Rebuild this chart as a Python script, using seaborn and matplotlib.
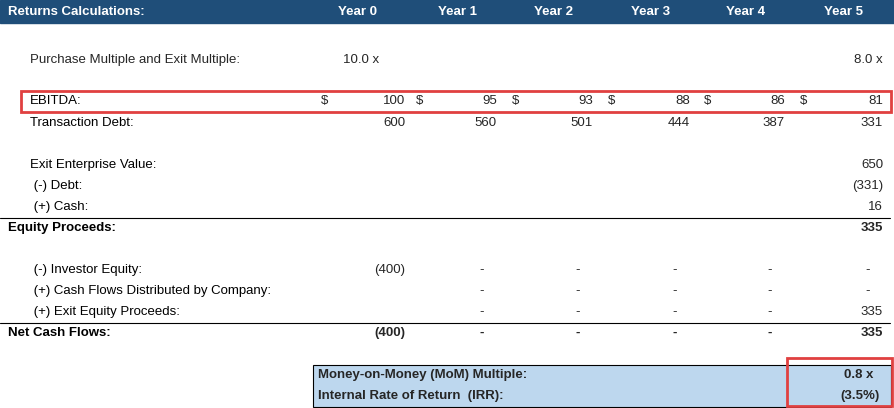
import matplotlib
matplotlib.use("Agg")
import matplotlib.pyplot as plt
import seaborn as sns
from matplotlib.patches import Rectangle

sns.set_theme(style="white")

years = ["Year 0", "Year 1", "Year 2", "Year 3", "Year 4", "Year 5"]
multiples = ["10.0 x", "", "", "", "", "8.0 x"]
ebitda = [100, 95, 93, 88, 86, 81]
debt = [600, 560, 501, 444, 387, 331]
exit_ev = ["", "", "", "", "", "650"]
less_debt = ["", "", "", "", "", "(331)"]
plus_cash = ["", "", "", "", "", "16"]
equity_proceeds = ["", "", "", "", "", "335"]
investor_equity = ["(400)", "-", "-", "-", "-", "-"]
cf_distributed = ["", "-", "-", "-", "-", "-"]
exit_equity = ["", "-", "-", "-", "-", "335"]
net_cf = ["(400)", "-", "-", "-", "-", "335"]
mom = "0.8 x"
irr = "(3.5%)"

W, H = 894, 408
fig = plt.figure(figsize=(W / 100, H / 100), dpi=100)
ax = fig.add_axes([0, 0, 1, 1])
ax.set_xlim(0, W)
ax.set_ylim(H, 0)
ax.axis("off")

FONT = "Liberation Sans"
fs = 9.5
col_right = [405, 497, 593, 690, 785, 883]
col_center = [357, 458, 554, 651, 746, 843]
dollar_x = [325, 420, 516, 612, 708, 804]

# header
ax.add_patch(Rectangle((0, 0), W, 23, color="#1F4E79", zorder=0))
ax.text(8, 12, "Returns Calculations:", color="white", fontweight="bold",
        fontsize=fs, va="center", family=FONT)
for x, y in zip(col_center, years):
    ax.text(x, 12, y, color="white", fontweight="bold", fontsize=fs,
            va="center", ha="center", family=FONT)

def row(y, label, vals, indent=30, bold=False, ha="right"):
    ax.text(indent, y, label, fontsize=fs, va="center", family=FONT,
            fontweight="bold" if bold else "normal", color="black")
    for i, v in enumerate(vals):
        if v == "":
            continue
        if v == "-":
            ax.text(col_right[i] - 15, y, v, fontsize=fs, va="center", ha="center",
                    family=FONT, fontweight="bold" if bold else "normal")
        else:
            ax.text(col_right[i], y, v, fontsize=fs, va="center", ha=ha,
                    family=FONT, fontweight="bold" if bold else "normal")

ax.text(30, 60, "Purchase Multiple and Exit Multiple:", fontsize=fs, va="center", family=FONT)
ax.text(343, 60, multiples[0], fontsize=fs, va="center", family=FONT)
ax.text(883, 60, multiples[5], fontsize=fs, va="center", ha="right", family=FONT)

row(101, "EBITDA:", [str(v) for v in ebitda], indent=30)
for x in dollar_x:
    ax.text(x, 101, "$", fontsize=fs, va="center", ha="center", family=FONT)
ax.add_patch(Rectangle((21, 91), 870, 21, fill=False, ec="#E04040", lw=2))

row(123, "Transaction Debt:", [str(v) for v in debt], indent=30)
row(165, "Exit Enterprise Value:", exit_ev, indent=30)
row(186, " (-) Debt:", less_debt, indent=30)
row(207, " (+) Cash:", plus_cash, indent=30)
ax.plot([0, 890], [218, 218], color="black", lw=0.8)
row(228, "Equity Proceeds:", equity_proceeds, indent=8, bold=True)

row(270, " (-) Investor Equity:", investor_equity, indent=30)
row(291, " (+) Cash Flows Distributed by Company:", cf_distributed, indent=30)
row(312, " (+) Exit Equity Proceeds:", exit_equity, indent=30)
ax.plot([0, 890], [323, 323], color="black", lw=0.8)
row(333, "Net Cash Flows:", net_cf, indent=8, bold=True)

ax.add_patch(Rectangle((313, 365), 578, 42, fc="#BDD7EE", ec="black", lw=0.8))
ax.text(318, 375, "Money-on-Money (MoM) Multiple:", fontsize=fs, va="center",
        fontweight="bold", family=FONT)
ax.text(318, 396, "Internal Rate of Return  (IRR):", fontsize=fs, va="center",
        fontweight="bold", family=FONT)
ax.text(873, 375, mom, fontsize=fs, va="center", ha="right", fontweight="bold", family=FONT)
ax.text(880, 396, irr, fontsize=fs, va="center", ha="right", fontweight="bold", family=FONT)
ax.add_patch(Rectangle((787, 358), 105, 48, fill=False, ec="#E04040", lw=2))

fig.savefig("out.png", dpi=100)
